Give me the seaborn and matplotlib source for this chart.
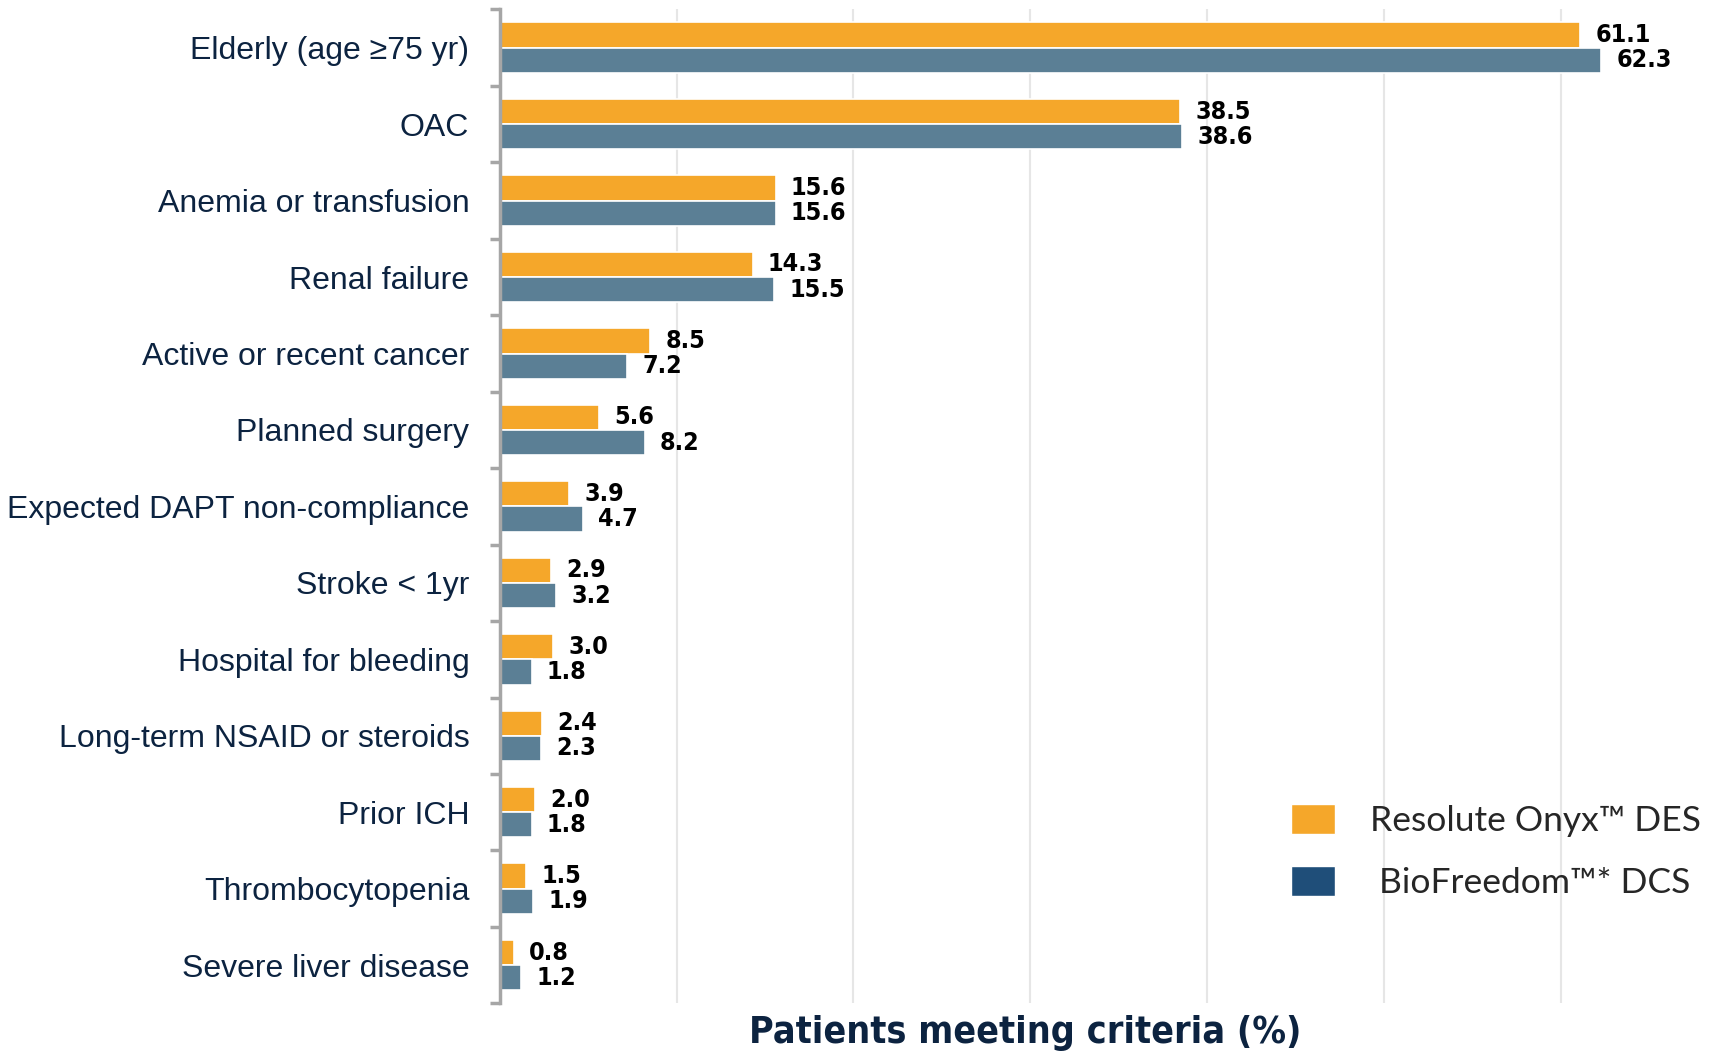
import pandas as pd
import numpy as np
import matplotlib
matplotlib.use("Agg")
import matplotlib.pyplot as plt
from matplotlib.patches import Patch
from matplotlib.ticker import FixedLocator
import seaborn as sns

# chart data
criteria = [
    'Elderly (age ≥75 yr)', 'OAC', 'Anemia or transfusion', 'Renal failure',
    'Active or recent cancer', 'Planned surgery', 'Expected DAPT non-compliance',
    'Stroke < 1yr', 'Hospital for bleeding', 'Long-term NSAID or steroids',
    'Prior ICH', 'Thrombocytopenia', 'Severe liver disease',
]
onyx = [61.1, 38.5, 15.6, 14.3, 8.5, 5.6, 3.9, 2.9, 3.0, 2.4, 2.0, 1.5, 0.8]
biofreedom = [62.3, 38.6, 15.6, 15.5, 7.2, 8.2, 4.7, 3.2, 1.8, 2.3, 1.8, 1.9, 1.2]
devices = ['Resolute Onyx™ DES', 'BioFreedom™* DCS']
grid_ticks = [10, 20, 30, 40, 50, 60]

ORANGE = '#F5A72A'
STEEL = '#5B7F95'
NAVY_LEG = '#1F4E79'
NAVY_TXT = '#0C2340'

df = pd.DataFrame({
    'criterion': criteria * 2,
    'pct': onyx + biofreedom,
    'device': [devices[0]] * len(criteria) + [devices[1]] * len(criteria),
})

sns.set_style('white')
plt.rcParams['font.family'] = ['Liberation Sans', 'DejaVu Sans']

fig = plt.figure(figsize=(17.09, 10.54), dpi=100)
ax = fig.add_axes([0.2925, 0.048, 0.7075, 0.943])

sns.barplot(data=df, y='criterion', x='pct', hue='device', orient='h',
            palette=[ORANGE, STEEL], saturation=1, width=0.66, edgecolor='white',
            linewidth=1.2, legend=False, ax=ax)

ax.set_xlim(0, 68.4)
ax.set_ylim(len(criteria) - 0.5, -0.5)

# value labels
for cont in ax.containers:
    ax.bar_label(cont, fmt='%.1f', padding=11, fontsize=18, fontweight='bold',
                 color='black', family='DejaVu Sans', fontstretch='condensed')

# grid lines only, no x tick labels
ax.xaxis.set_major_locator(FixedLocator(grid_ticks))
ax.set_xticklabels([])
ax.tick_params(axis='x', length=0)
ax.grid(axis='x', color='#E6E6E6', linewidth=1.5)
ax.grid(axis='y', visible=False)
ax.set_axisbelow(True)

# left spine with ticks at category boundaries
for s in ['top', 'right', 'bottom']:
    ax.spines[s].set_visible(False)
ax.spines['left'].set_color('#A6A6A6')
ax.spines['left'].set_linewidth(2.5)
ax.yaxis.set_minor_locator(FixedLocator(np.arange(-0.5, len(criteria), 1.0)))
ax.tick_params(axis='y', which='minor', length=7, width=2.5, color='#A6A6A6', left=True)
ax.tick_params(axis='y', which='major', length=0, pad=22, labelsize=23, labelcolor=NAVY_TXT)
ax.set_ylabel('')

ax.set_xlabel('Patients meeting criteria (%)', fontsize=27, fontweight='heavy',
              color=NAVY_TXT, family='DejaVu Sans', fontstretch='condensed')
ax.xaxis.set_label_coords(0.4345, -0.012)
ax.xaxis.label.set_va('top')

handles = [Patch(facecolor=ORANGE), Patch(facecolor=NAVY_LEG)]
leg = ax.legend(handles, ['Resolute Onyx™ DES', ' BioFreedom™* DCS'],
                loc='lower right', bbox_to_anchor=(1.02, 0.073), frameon=False,
                prop={'family': 'Lato', 'size': 25.5}, handlelength=1.25,
                handleheight=0.95, handletextpad=1.0, labelspacing=0.8)

fig.savefig('out.png', dpi=100)
